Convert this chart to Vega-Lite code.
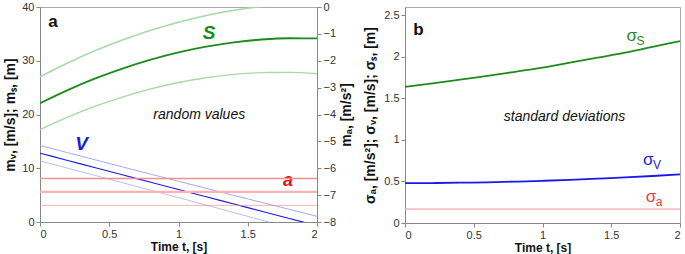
{
  "$schema": "https://vega.github.io/schema/vega-lite/v6.json",
  "padding": {"left": 3, "top": 0, "right": 0, "bottom": 0},
  "spacing": 8,
  "config": {
    "view": {"stroke": "#aaa", "strokeWidth": 1},
    "font": "Liberation Sans",
    "axis": {"grid": false, "labelFont": "Liberation Sans", "labelFontSize": 11, "labelColor": "#333", "titleFont": "Liberation Sans", "titleFontSize": 14, "titleFontWeight": "bold", "titleColor": "#111", "domainColor": "#888", "tickColor": "#888", "tickSize": 4, "labelPadding": 2},
    "axisX": {"titleFontSize": 12, "titlePadding": 2}
  },
  "datasets": {
    "curves": [
      {"t": 0, "k": "s", "y": 22.1}, {"t": 0.2, "k": "s", "y": 24.54}, {"t": 0.4, "k": "s", "y": 26.71}, {"t": 0.6, "k": "s", "y": 28.6}, {"t": 0.8, "k": "s", "y": 30.22}, {"t": 1.0, "k": "s", "y": 31.57}, {"t": 1.2, "k": "s", "y": 32.63}, {"t": 1.4, "k": "s", "y": 33.43}, {"t": 1.6, "k": "s", "y": 33.95}, {"t": 1.8, "k": "s", "y": 34.19}, {"t": 2.0, "k": "s", "y": 34.16},
      {"t": 0, "k": "sHi", "y": 27.02}, {"t": 0.2, "k": "sHi", "y": 29.58}, {"t": 0.4, "k": "sHi", "y": 31.89}, {"t": 0.6, "k": "sHi", "y": 33.91}, {"t": 0.8, "k": "sHi", "y": 35.68}, {"t": 1.0, "k": "sHi", "y": 37.18}, {"t": 1.2, "k": "sHi", "y": 38.42}, {"t": 1.4, "k": "sHi", "y": 39.4}, {"t": 1.6, "k": "sHi", "y": 40.1}, {"t": 1.8, "k": "sHi", "y": 40.55}, {"t": 2.0, "k": "sHi", "y": 40.73},
      {"t": 0, "k": "sLo", "y": 17.18}, {"t": 0.2, "k": "sLo", "y": 19.5}, {"t": 0.4, "k": "sLo", "y": 21.54}, {"t": 0.6, "k": "sLo", "y": 23.29}, {"t": 0.8, "k": "sLo", "y": 24.76}, {"t": 1.0, "k": "sLo", "y": 25.96}, {"t": 1.2, "k": "sLo", "y": 26.84}, {"t": 1.4, "k": "sLo", "y": 27.46}, {"t": 1.6, "k": "sLo", "y": 27.8}, {"t": 1.8, "k": "sLo", "y": 27.83}, {"t": 2.0, "k": "sLo", "y": 27.59},
      {"t": 0, "k": "v", "y": 12.8}, {"t": 0.2, "k": "v", "y": 11.45}, {"t": 0.4, "k": "v", "y": 10.1}, {"t": 0.6, "k": "v", "y": 8.75}, {"t": 0.8, "k": "v", "y": 7.4}, {"t": 1.0, "k": "v", "y": 6.05}, {"t": 1.2, "k": "v", "y": 4.7}, {"t": 1.4, "k": "v", "y": 3.35}, {"t": 1.6, "k": "v", "y": 2.0}, {"t": 1.8, "k": "v", "y": 0.65}, {"t": 2.0, "k": "v", "y": -0.7},
      {"t": 0, "k": "vHi", "y": 14.24}, {"t": 0.2, "k": "vHi", "y": 12.89}, {"t": 0.4, "k": "vHi", "y": 11.56}, {"t": 0.6, "k": "vHi", "y": 10.22}, {"t": 0.8, "k": "vHi", "y": 8.89}, {"t": 1.0, "k": "vHi", "y": 7.57}, {"t": 1.2, "k": "vHi", "y": 6.26}, {"t": 1.4, "k": "vHi", "y": 4.95}, {"t": 1.6, "k": "vHi", "y": 3.65}, {"t": 1.8, "k": "vHi", "y": 2.35}, {"t": 2.0, "k": "vHi", "y": 1.06},
      {"t": 0, "k": "vLo", "y": 11.36}, {"t": 0.2, "k": "vLo", "y": 10.01}, {"t": 0.4, "k": "vLo", "y": 8.65}, {"t": 0.6, "k": "vLo", "y": 7.28}, {"t": 0.8, "k": "vLo", "y": 5.91}, {"t": 1.0, "k": "vLo", "y": 4.53}, {"t": 1.2, "k": "vLo", "y": 3.14}, {"t": 1.4, "k": "vLo", "y": 1.75}, {"t": 1.6, "k": "vLo", "y": 0.35}, {"t": 1.8, "k": "vLo", "y": -1.05}, {"t": 2.0, "k": "vLo", "y": -2.46}
    ],
    "sigmas": [
      {"t": 0, "k": "sigS", "y": 1.64}, {"t": 0.2, "k": "sigS", "y": 1.68}, {"t": 0.4, "k": "sigS", "y": 1.725}, {"t": 0.6, "k": "sigS", "y": 1.77}, {"t": 0.8, "k": "sigS", "y": 1.82}, {"t": 1.0, "k": "sigS", "y": 1.87}, {"t": 1.2, "k": "sigS", "y": 1.93}, {"t": 1.4, "k": "sigS", "y": 1.99}, {"t": 1.6, "k": "sigS", "y": 2.05}, {"t": 1.8, "k": "sigS", "y": 2.12}, {"t": 2.0, "k": "sigS", "y": 2.19},
      {"t": 0, "k": "sigV", "y": 0.48}, {"t": 0.2, "k": "sigV", "y": 0.481}, {"t": 0.4, "k": "sigV", "y": 0.485}, {"t": 0.6, "k": "sigV", "y": 0.49}, {"t": 0.8, "k": "sigV", "y": 0.498}, {"t": 1.0, "k": "sigV", "y": 0.508}, {"t": 1.2, "k": "sigV", "y": 0.52}, {"t": 1.4, "k": "sigV", "y": 0.534}, {"t": 1.6, "k": "sigV", "y": 0.549}, {"t": 1.8, "k": "sigV", "y": 0.566}, {"t": 2.0, "k": "sigV", "y": 0.585}
    ],
    "alines": [
      {"k": "aHi", "a": -6.38}, {"k": "a", "a": -6.88}, {"k": "aLo", "a": -7.38}
    ],
    "sigA": [{"k": "sigA", "y": 0.167}],
    "labA": [
      {"id": "panel", "t": 0.06, "y": 37.2, "text": "a"},
      {"id": "S", "t": 1.22, "y": 35.1, "text": "S"},
      {"id": "V", "t": 0.3, "y": 14.6, "text": "V"},
      {"id": "a", "t": 1.79, "y": 7.55, "text": "a"},
      {"id": "note", "t": 1.15, "y": 19.9, "text": "random values"}
    ],
    "labB": [
      {"id": "panel", "t": 0.06, "y": 2.32, "text": "b"},
      {"id": "note", "t": 1.16, "y": 1.28, "text": "standard deviations"},
      {"id": "sigS", "t": 1.61, "y": 2.25, "text": "σ", "sub": "S"},
      {"id": "sigV", "t": 1.73, "y": 0.76, "text": "σ", "sub": "V"},
      {"id": "sigA", "t": 1.75, "y": 0.31, "text": "σ", "sub": "a"}
    ]
  },
  "hconcat": [
    {
      "width": 277,
      "height": 215,
      "layer": [
        {
          "layer": [
            {
              "data": {"name": "curves"},
              "mark": {"type": "line", "interpolate": "monotone", "clip": true},
              "encoding": {
                "x": {"field": "t", "type": "quantitative", "scale": {"domain": [0, 2]}, "axis": {"values": [0, 0.5, 1, 1.5, 2], "format": "~g", "title": "Time t, [s]"}},
                "y": {"field": "y", "type": "quantitative", "scale": {"domain": [0, 40]}, "axis": {"values": [0, 5, 10, 15, 20, 25, 30, 35, 40], "title": "mᵥ, [m/s];    mₛ, [m]", "titlePadding": 4}},
                "detail": {"field": "k"},
                "color": {"field": "k", "type": "nominal", "legend": null, "scale": {"domain": ["s", "sHi", "sLo", "v", "vHi", "vLo"], "range": ["#1e8a1e", "#a6daa6", "#a6daa6", "#1a1ae6", "#a0a0f2", "#a0a0f2"]}},
                "strokeWidth": {"field": "k", "type": "nominal", "legend": null, "scale": {"domain": ["s", "sHi", "sLo", "v", "vHi", "vLo"], "range": [1.8, 0.7, 0.7, 1.8, 0.8, 0.8]}}
              }
            },
            {
              "data": {"name": "labA"},
              "transform": [{"filter": "datum.id == 'panel'"}],
              "mark": {"type": "text", "align": "left", "baseline": "middle", "fontSize": 17, "fontWeight": "bold", "color": "#111"},
              "encoding": {"x": {"field": "t", "type": "quantitative"}, "y": {"field": "y", "type": "quantitative"}, "text": {"field": "text"}}
            },
            {
              "data": {"name": "labA"},
              "transform": [{"filter": "datum.id == 'S'"}],
              "mark": {"type": "text", "align": "center", "baseline": "middle", "fontSize": 19, "fontWeight": "bold", "fontStyle": "italic", "color": "#1e8a1e"},
              "encoding": {"x": {"field": "t", "type": "quantitative"}, "y": {"field": "y", "type": "quantitative"}, "text": {"field": "text"}}
            },
            {
              "data": {"name": "labA"},
              "transform": [{"filter": "datum.id == 'V'"}],
              "mark": {"type": "text", "align": "center", "baseline": "middle", "fontSize": 19, "fontWeight": "bold", "fontStyle": "italic", "color": "#1a1ae6"},
              "encoding": {"x": {"field": "t", "type": "quantitative"}, "y": {"field": "y", "type": "quantitative"}, "text": {"field": "text"}}
            },
            {
              "data": {"name": "labA"},
              "transform": [{"filter": "datum.id == 'a'"}],
              "mark": {"type": "text", "align": "center", "baseline": "middle", "fontSize": 18, "fontWeight": "bold", "fontStyle": "italic", "color": "#e81010"},
              "encoding": {"x": {"field": "t", "type": "quantitative"}, "y": {"field": "y", "type": "quantitative"}, "text": {"field": "text"}}
            },
            {
              "data": {"name": "labA"},
              "transform": [{"filter": "datum.id == 'note'"}],
              "mark": {"type": "text", "align": "center", "baseline": "middle", "fontSize": 14, "fontStyle": "italic", "color": "#111"},
              "encoding": {"x": {"field": "t", "type": "quantitative"}, "y": {"field": "y", "type": "quantitative"}, "text": {"field": "text"}}
            }
          ]
        },
        {
          "data": {"name": "alines"},
          "mark": {"type": "rule"},
          "encoding": {
            "y": {"field": "a", "type": "quantitative", "scale": {"domain": [-8, 0]}, "axis": {"orient": "right", "values": [-8, -7, -6, -5, -4, -3, -2, -1, 0], "title": "mₐ, [m/s²]", "titleAngle": 270, "titleBaseline": "top", "titlePadding": 4}},
            "color": {"field": "k", "type": "nominal", "legend": null, "scale": {"domain": ["a", "aHi", "aLo"], "range": ["#f6b4b4", "#f29090", "#f29090"]}},
            "strokeWidth": {"field": "k", "type": "nominal", "legend": null, "scale": {"domain": ["a", "aHi", "aLo"], "range": [2.2, 0.7, 0.7]}}
          }
        }
      ],
      "resolve": {"scale": {"y": "independent", "color": "independent", "strokeWidth": "independent"}, "axis": {"y": "independent"}}
    },
    {
      "width": 275,
      "height": 216,
      "layer": [
        {
          "layer": [
            {
              "data": {"name": "sigmas"},
              "mark": {"type": "line", "interpolate": "monotone", "clip": true},
              "encoding": {
                "x": {"field": "t", "type": "quantitative", "scale": {"domain": [0, 2]}, "axis": {"values": [0, 0.5, 1, 1.5, 2], "format": "~g", "title": "Time t, [s]"}},
                "y": {"field": "y", "type": "quantitative", "scale": {"domain": [0, 2.5]}, "axis": {"values": [0, 0.5, 1, 1.5, 2, 2.5], "format": "~g", "title": "σₐ, [m/s²];   σᵥ, [m/s];   σₛ, [m]", "titlePadding": 6}},
                "detail": {"field": "k"},
                "color": {"field": "k", "type": "nominal", "legend": null, "scale": {"domain": ["sigS", "sigV", "sigA"], "range": ["#1e8a1e", "#1a1ae6", "#f4a8a8"]}},
                "strokeWidth": {"value": 1.8}
              }
            },
            {
              "data": {"name": "sigA"},
              "mark": {"type": "rule", "strokeWidth": 1.4},
              "encoding": {
                "y": {"field": "y", "type": "quantitative"},
                "color": {"field": "k", "type": "nominal", "legend": null}
              }
            }
          ]
        },
        {
          "layer": [
            {
              "data": {"name": "labB"},
              "transform": [{"filter": "datum.id == 'panel'"}],
              "mark": {"type": "text", "align": "left", "baseline": "middle", "fontSize": 17, "fontWeight": "bold", "color": "#111"},
              "encoding": {"x": {"field": "t", "type": "quantitative"}, "y": {"field": "y", "type": "quantitative"}, "text": {"field": "text"}}
            },
            {
              "data": {"name": "labB"},
              "transform": [{"filter": "datum.id == 'note'"}],
              "mark": {"type": "text", "align": "center", "baseline": "middle", "fontSize": 14, "fontStyle": "italic", "color": "#111"},
              "encoding": {"x": {"field": "t", "type": "quantitative"}, "y": {"field": "y", "type": "quantitative"}, "text": {"field": "text"}}
            },
            {
              "data": {"name": "labB"},
              "transform": [{"filter": "datum.id != 'panel' && datum.id != 'note'"}],
              "mark": {"type": "text", "align": "left", "baseline": "middle", "fontSize": 17},
              "encoding": {"x": {"field": "t", "type": "quantitative"}, "y": {"field": "y", "type": "quantitative"}, "text": {"field": "text"}, "color": {"field": "id", "type": "nominal", "legend": null, "scale": {"domain": ["sigS", "sigV", "sigA"], "range": ["#1e8a1e", "#1a1ae6", "#e83a3a"]}}}
            },
            {
              "data": {"name": "labB"},
              "transform": [{"filter": "datum.id != 'panel' && datum.id != 'note'"}],
              "mark": {"type": "text", "align": "left", "baseline": "middle", "fontSize": 12, "dx": 10, "dy": 5},
              "encoding": {"x": {"field": "t", "type": "quantitative"}, "y": {"field": "y", "type": "quantitative"}, "text": {"field": "sub"}, "color": {"field": "id", "type": "nominal", "legend": null}}
            }
          ]
        }
      ],
      "resolve": {"scale": {"color": "independent"}}
    }
  ]
}
